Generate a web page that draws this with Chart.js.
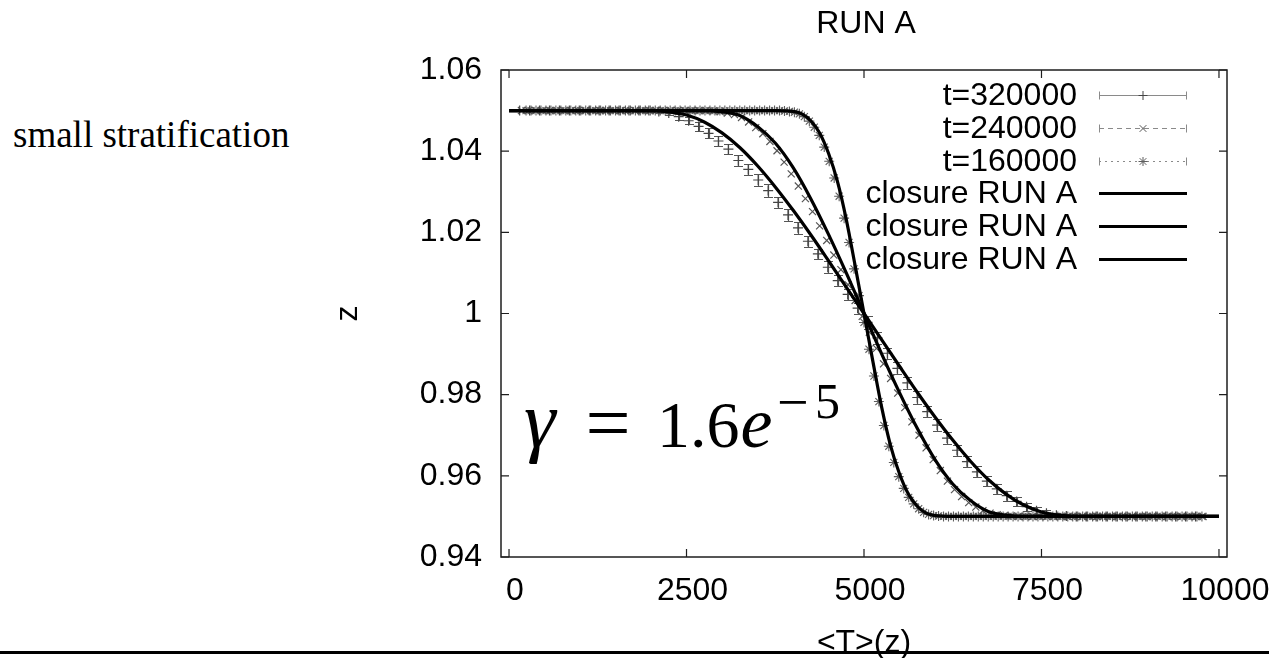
<!DOCTYPE html>
<html lang="en">
<head>
<meta charset="utf-8">
<style>
    body {
        margin: 0;
        background: #fff;
    }

    #wrap {
        position: relative;
        width: 1269px;
        height: 658px;
        overflow: hidden;
    }

    #note {
        position: absolute;
        left: 13px;
        top: 117px;
        font: 37px 'Liberation Serif', 'Times New Roman', serif;
        line-height: 36px;
        color: #000;
        white-space: nowrap;
    }

    #rule {
        position: absolute;
        left: 0;
        top: 651px;
        width: 1269px;
        height: 3px;
        background: #000;
    }

    #profileChart {
        position: absolute;
        left: 0;
        top: 0;
    }
</style>
</head>
<body>

<div id="wrap">
    <div id="note">small stratification</div>
    <canvas id="profileChart" width="1269" height="658"></canvas>
    <div id="rule"></div>
</div>

<script src="https://cdn.jsdelivr.net/npm/chart.js"></script>
<script>
    // axis ticks
    const xTicks = [0, 2500, 5000, 7500, 10000];
    const yTicks = [0.94, 0.96, 0.98, 1, 1.02, 1.04, 1.06];

    // t=320000 profile (with error bars)
    const t320X = [
        150, 290, 430, 570, 710, 850, 990, 1130, 1270, 1410,
        1550, 1690, 1830, 1970, 2110, 2250, 2390, 2530, 2670, 2810,
        2950, 3090, 3230, 3370, 3510, 3650, 3790, 3930, 4070, 4210,
        4350, 4490, 4630, 4770, 4910, 5050, 5190, 5330, 5470, 5610,
        5750, 5890, 6030, 6170, 6310, 6450, 6590, 6730, 6870, 7010,
        7150, 7290, 7430, 7570, 7710, 7850, 7990, 8130, 8270, 8410,
        8550, 8690, 8830, 8970, 9110, 9250, 9390, 9530, 9670
    ];
    const t320Y = [
        1.05, 1.05, 1.05, 1.05, 1.05, 1.05, 1.05, 1.05, 1.05, 1.05,
        1.05, 1.05, 1.05, 1.05, 1.0498, 1.0494, 1.0485, 1.0475, 1.0461, 1.0444,
        1.0425, 1.0405, 1.0377, 1.0355, 1.0329, 1.0303, 1.0274, 1.0243, 1.0211, 1.0178,
        1.0147, 1.0114, 1.0081, 1.0047, 1.0013, 0.9978, 0.9940, 0.9902, 0.9865, 0.9829,
        0.9793, 0.9758, 0.9725, 0.9693, 0.9663, 0.9635, 0.9610, 0.9587, 0.9568, 0.9551,
        0.9537, 0.9524, 0.9514, 0.9508, 0.9503, 0.9501, 0.95, 0.95, 0.95, 0.95,
        0.95, 0.95, 0.95, 0.95, 0.95, 0.95, 0.95, 0.95, 0.95
    ];
    const t320Err = [
        0, 0, 0, 0, 0, 0, 0, 0, 0, 0,
        0, 0, 0, 0, 0.0003, 0.0005, 0.0007, 0.0009, 0.0011, 0.0012,
        0.0013, 0.0012, 0.0014, 0.0013, 0.0014, 0.0015, 0.0013, 0.0014, 0.0015, 0.0014,
        0.0013, 0.0015, 0.0014, 0.0013, 0.0014, 0.0015, 0.0014, 0.0013, 0.0015, 0.0014,
        0.0015, 0.0013, 0.0014, 0.0015, 0.0014, 0.0013, 0.0014, 0.0013, 0.0012, 0.0012,
        0.0011, 0.0010, 0.0009, 0.0007, 0.0005, 0.0004, 0.0002, 0, 0, 0,
        0, 0, 0, 0, 0, 0, 0, 0, 0
    ];

    // t=240000 profile
    const t240X = [
        175, 275, 375, 475, 575, 675, 775, 875, 975, 1075,
        1175, 1275, 1375, 1475, 1575, 1675, 1775, 1875, 1975, 2075,
        2175, 2275, 2375, 2475, 2575, 2675, 2775, 2875, 2975, 3075,
        3175, 3275, 3375, 3475, 3575, 3675, 3775, 3875, 3975, 4075,
        4175, 4275, 4375, 4475, 4575, 4675, 4775, 4875, 4975, 5075,
        5175, 5275, 5375, 5475, 5575, 5675, 5775, 5875, 5975, 6075,
        6175, 6275, 6375, 6475, 6575, 6675, 6775, 6875, 6975, 7075,
        7175, 7275, 7375, 7475, 7575, 7675, 7775, 7875, 7975, 8075,
        8175, 8275, 8375, 8475, 8575, 8675, 8775, 8875, 8975, 9075,
        9175, 9275, 9375, 9475, 9575, 9675, 9775
    ];
    const t240Y = [
        1.05, 1.05, 1.05, 1.05, 1.05, 1.05, 1.05, 1.05, 1.05, 1.05,
        1.05, 1.05, 1.05, 1.05, 1.05, 1.05, 1.05, 1.05, 1.05, 1.05,
        1.05, 1.05, 1.05, 1.05, 1.05, 1.05, 1.05, 1.0499, 1.0497, 1.0494,
        1.0490, 1.0483, 1.0472, 1.0458, 1.0443, 1.0424, 1.0401, 1.0373, 1.0344, 1.0314,
        1.0283, 1.0251, 1.0216, 1.0180, 1.0144, 1.0108, 1.0071, 1.0032, 0.9993, 0.9954,
        0.9914, 0.9876, 0.9840, 0.9804, 0.9768, 0.9733, 0.9700, 0.9669, 0.9640, 0.9613,
        0.9587, 0.9566, 0.9549, 0.9534, 0.9523, 0.9514, 0.9508, 0.9504, 0.9502, 0.9501,
        0.95, 0.95, 0.95, 0.95, 0.95, 0.95, 0.95, 0.95, 0.95, 0.95,
        0.95, 0.95, 0.95, 0.95, 0.95, 0.95, 0.95, 0.95, 0.95, 0.95,
        0.95, 0.95, 0.95, 0.95, 0.95, 0.95, 0.95
    ];

    // t=160000 profile
    const t160X = [
        240, 310, 380, 450, 520, 590, 660, 730, 800, 870,
        940, 1010, 1080, 1150, 1220, 1290, 1360, 1430, 1500, 1570,
        1640, 1710, 1780, 1850, 1920, 1990, 2060, 2130, 2200, 2270,
        2340, 2410, 2480, 2550, 2620, 2690, 2760, 2830, 2900, 2970,
        3040, 3110, 3180, 3250, 3320, 3390, 3460, 3530, 3600, 3670,
        3740, 3810, 3880, 3950, 4020, 4090, 4160, 4230, 4300, 4370,
        4440, 4510, 4580, 4650, 4720, 4790, 4860, 4930, 5000, 5070,
        5140, 5210, 5280, 5350, 5420, 5490, 5560, 5630, 5700, 5770,
        5840, 5910, 5980, 6050, 6120, 6190, 6260, 6330, 6400, 6470,
        6540, 6610, 6680, 6750, 6820, 6890, 6960, 7030, 7100, 7170,
        7240, 7310, 7380, 7450, 7520, 7590, 7660, 7730, 7800, 7870,
        7940, 8010, 8080, 8150, 8220, 8290, 8360, 8430, 8500, 8570,
        8640, 8710, 8780, 8850, 8920, 8990, 9060, 9130, 9200, 9270,
        9340, 9410, 9480, 9550, 9620, 9690, 9760
    ];
    const t160Y = [
        1.05, 1.05, 1.05, 1.05, 1.05, 1.05, 1.05, 1.05, 1.05, 1.05,
        1.05, 1.05, 1.05, 1.05, 1.05, 1.05, 1.05, 1.05, 1.05, 1.05,
        1.05, 1.05, 1.05, 1.05, 1.05, 1.05, 1.05, 1.05, 1.05, 1.05,
        1.05, 1.05, 1.05, 1.05, 1.05, 1.05, 1.05, 1.05, 1.05, 1.05,
        1.05, 1.05, 1.05, 1.05, 1.05, 1.05, 1.05, 1.05, 1.05, 1.05,
        1.05, 1.05, 1.0499, 1.0498, 1.0496, 1.0492, 1.0485, 1.0474, 1.0459, 1.0439,
        1.0410, 1.0375, 1.0334, 1.0289, 1.0235, 1.0175, 1.0110, 1.0044, 0.9978, 0.9912,
        0.9846, 0.9783, 0.9724, 0.9673, 0.9633, 0.9598, 0.9569, 0.9547, 0.9531, 0.9519,
        0.9510, 0.9505, 0.9502, 0.9501, 0.95, 0.95, 0.95, 0.95, 0.95, 0.95,
        0.95, 0.95, 0.95, 0.95, 0.95, 0.95, 0.95, 0.95, 0.95, 0.95,
        0.95, 0.95, 0.95, 0.95, 0.95, 0.95, 0.95, 0.95, 0.95, 0.95,
        0.95, 0.95, 0.95, 0.95, 0.95, 0.95, 0.95, 0.95, 0.95, 0.95,
        0.95, 0.95, 0.95, 0.95, 0.95, 0.95, 0.95, 0.95, 0.95, 0.95,
        0.95, 0.95, 0.95, 0.95, 0.95, 0.95, 0.95
    ];

    // closure model curves
    const closureAX = [0, 1000, 2000, 2250, 2500, 2750, 3000, 3250, 3500, 3750, 4000, 4250, 4500, 4750,
        5000, 5250, 5500, 5750, 6000, 6250, 6500, 6750, 7000, 7250, 7500, 7750, 8000, 9000, 10000];
    const closureAY = [1.05, 1.05, 1.05, 1.0497, 1.0489, 1.0472, 1.0445, 1.0409, 1.0364, 1.0312, 1.0255, 1.0194, 1.0130, 1.0065,
        1.0, 0.9935, 0.9870, 0.9806, 0.9745, 0.9688, 0.9636, 0.9591, 0.9555, 0.9528, 0.9511, 0.9503, 0.95, 0.95, 0.95];

    const closureBX = [0, 1000, 2000, 2750, 3000, 3250, 3500, 3750, 4000, 4250, 4500, 4750,
        5000, 5250, 5500, 5750, 6000, 6250, 6500, 6750, 7000, 7250, 8000, 9000, 10000];
    const closureBY = [1.05, 1.05, 1.05, 1.05, 1.0497, 1.0488, 1.0461, 1.0420, 1.0360, 1.0283, 1.0195, 1.0100,
        1.0, 0.9900, 0.9805, 0.9717, 0.9640, 0.9580, 0.9539, 0.9512, 0.9503, 0.95, 0.95, 0.95, 0.95];

    const closureCX = [0, 1000, 2000, 3000, 3750, 4000, 4125, 4250, 4375, 4500, 4625, 4750, 4875,
        5000, 5125, 5250, 5375, 5500, 5625, 5750, 5875, 6000, 6250, 7000, 8000, 9000, 10000];
    const closureCY = [1.05, 1.05, 1.05, 1.05, 1.05, 1.0498, 1.0492, 1.0475, 1.0445, 1.0395, 1.0326, 1.0232, 1.0118,
        1.0, 0.9882, 0.9768, 0.9674, 0.9605, 0.9555, 0.9525, 0.9508, 0.9502, 0.95, 0.95, 0.95, 0.95, 0.95];

    const sansFont = "'Liberation Sans', Arial, Helvetica, sans-serif";
    const serifFont = "'Liberation Serif', 'Times New Roman', serif";

    Chart.defaults.font.family = sansFont;
    Chart.defaults.font.size = 32;
    Chart.defaults.color = '#000';

    function toPoints(xs, ys) {
        return xs.map((x, i) => ({ x: x, y: ys[i] }));
    }

    // small marker shapes used in the key
    function drawMarker(ctx, style, cx, cy, r) {
        ctx.beginPath();
        if (style === 'cross' || style === 'star') {
            ctx.moveTo(cx - r, cy); ctx.lineTo(cx + r, cy);
            ctx.moveTo(cx, cy - r); ctx.lineTo(cx, cy + r);
        }
        if (style === 'crossRot' || style === 'star') {
            const d = r * 0.75;
            ctx.moveTo(cx - d, cy - d); ctx.lineTo(cx + d, cy + d);
            ctx.moveTo(cx - d, cy + d); ctx.lineTo(cx + d, cy - d);
        }
        ctx.stroke();
    }

    // vertical error bars for the t=320000 run
    const errorBars = {
        id: 'errorBars',
        beforeDatasetsDraw(chart) {
            const { ctx, chartArea: a, scales: { x, y } } = chart;
            ctx.save();
            ctx.beginPath();
            ctx.rect(a.left, a.top, a.width, a.height);
            ctx.clip();
            ctx.strokeStyle = '#555';
            ctx.lineWidth = 1.2;
            t320X.forEach((tx, i) => {
                const e = t320Err[i];
                if (!e) return;
                const px = Math.round(x.getPixelForValue(tx)) + 0.5;
                const top = Math.round(y.getPixelForValue(t320Y[i] + e)) + 0.5;
                const bot = Math.round(y.getPixelForValue(t320Y[i] - e)) + 0.5;
                ctx.beginPath();
                ctx.moveTo(px, top); ctx.lineTo(px, bot);
                ctx.moveTo(px - 4.5, top); ctx.lineTo(px + 4.5, top);
                ctx.moveTo(px - 4.5, bot); ctx.lineTo(px + 4.5, bot);
                ctx.stroke();
            });
            ctx.restore();
        }
    };

    // border box with inward ticks on all four sides
    const frame = {
        id: 'frame',
        afterDatasetsDraw(chart) {
            const { ctx, chartArea: a, scales: { x, y } } = chart;
            ctx.save();
            ctx.strokeStyle = '#1e1e1e';
            ctx.lineWidth = 1.5;
            ctx.strokeRect(a.left, a.top, a.width, a.height);
            ctx.lineWidth = 1.2;
            ctx.beginPath();
            xTicks.forEach(v => {
                const p = x.getPixelForValue(v);
                ctx.moveTo(p, a.bottom); ctx.lineTo(p, a.bottom - 8);
                ctx.moveTo(p, a.top); ctx.lineTo(p, a.top + 8);
            });
            yTicks.forEach(v => {
                const p = y.getPixelForValue(v);
                ctx.moveTo(a.left, p); ctx.lineTo(a.left + 8, p);
                ctx.moveTo(a.right, p); ctx.lineTo(a.right - 8, p);
            });
            ctx.stroke();
            ctx.restore();
        }
    };

    // title, key and the gamma note
    const decorations = {
        id: 'decorations',
        afterDraw(chart) {
            const { ctx, chartArea: a } = chart;
            ctx.save();
            ctx.fillStyle = '#000';

            ctx.font = '32px ' + sansFont;
            ctx.textAlign = 'center';
            ctx.textBaseline = 'middle';
            ctx.fillText('RUN A', (a.left + a.right) / 2 + 2, 24);

            // key, top right inside the frame
            const textRight = a.right - 150;
            const lineStart = a.right - 128;
            const lineEnd = a.right - 40;
            chart.data.datasets.forEach((ds, i) => {
                const ly = Math.round(a.top + 25 + i * 32.8) + 0.5;
                ctx.textAlign = 'right';
                ctx.fillStyle = '#000';
                ctx.fillText(ds.label, textRight, ly + 1);
                if (ds.keyStyle === 'closure') {
                    ctx.strokeStyle = '#000';
                    ctx.lineWidth = 3;
                    ctx.setLineDash([]);
                    ctx.beginPath();
                    ctx.moveTo(lineStart, ly); ctx.lineTo(lineEnd, ly);
                    ctx.stroke();
                } else {
                    ctx.strokeStyle = '#8a8a8a';
                    ctx.lineWidth = 1;
                    ctx.setLineDash(ds.keyDash);
                    ctx.beginPath();
                    ctx.moveTo(lineStart, ly); ctx.lineTo(lineEnd, ly);
                    ctx.stroke();
                    ctx.setLineDash([]);
                    ctx.beginPath();
                    ctx.moveTo(lineStart + 0.5, ly - 4); ctx.lineTo(lineStart + 0.5, ly + 4);
                    ctx.moveTo(lineEnd - 0.5, ly - 4); ctx.lineTo(lineEnd - 0.5, ly + 4);
                    ctx.stroke();
                    ctx.strokeStyle = ds.borderColor;
                    drawMarker(ctx, ds.pointStyle, (lineStart + lineEnd) / 2, ly, 4.5);
                }
            });

            // gamma = 1.6e^-5
            ctx.fillStyle = '#000';
            ctx.textBaseline = 'alphabetic';
            ctx.textAlign = 'left';
            ctx.font = 'italic 80px ' + serifFont;
            ctx.fillText('\u03b3', 524, 447);
            ctx.textAlign = 'center';
            ctx.font = '80px ' + serifFont;
            ctx.fillText('=', 608, 450);
            ctx.textAlign = 'left';
            ctx.font = '66px ' + serifFont;
            ctx.fillText('1.6', 657, 447);
            const w = ctx.measureText('1.6').width;
            ctx.font = 'italic 72px ' + serifFont;
            ctx.fillText('e', 657 + w + 1, 447);
            ctx.font = '56px ' + serifFont;
            ctx.fillText('\u2212', 777, 421);
            ctx.font = '50px ' + serifFont;
            ctx.fillText('5', 815, 418);

            ctx.restore();
        }
    };

    const ctx = document.getElementById('profileChart').getContext('2d');

    new Chart(ctx, {
        type: 'scatter',
        data: {
            datasets: [
                {
                    label: 't=320000',
                    data: toPoints(t320X, t320Y),
                    pointStyle: 'cross',
                    pointRadius: 5,
                    borderWidth: 1.2,
                    borderColor: '#444',
                    backgroundColor: '#444',
                    keyDash: [],
                    order: 1
                },
                {
                    label: 't=240000',
                    data: toPoints(t240X, t240Y),
                    pointStyle: 'crossRot',
                    pointRadius: 5,
                    borderWidth: 1.2,
                    borderColor: '#555',
                    backgroundColor: '#555',
                    keyDash: [5, 4],
                    order: 1
                },
                {
                    label: 't=160000',
                    data: toPoints(t160X, t160Y),
                    pointStyle: 'star',
                    pointRadius: 5,
                    borderWidth: 1.1,
                    borderColor: '#5e5e5e',
                    backgroundColor: '#5e5e5e',
                    keyDash: [2, 4],
                    order: 1
                },
                {
                    label: 'closure RUN A',
                    data: toPoints(closureAX, closureAY),
                    showLine: true,
                    pointRadius: 0,
                    borderColor: '#000',
                    borderWidth: 3.2,
                    cubicInterpolationMode: 'monotone',
                    keyStyle: 'closure',
                    order: 0
                },
                {
                    label: 'closure RUN A',
                    data: toPoints(closureBX, closureBY),
                    showLine: true,
                    pointRadius: 0,
                    borderColor: '#000',
                    borderWidth: 3.2,
                    cubicInterpolationMode: 'monotone',
                    keyStyle: 'closure',
                    order: 0
                },
                {
                    label: 'closure RUN A',
                    data: toPoints(closureCX, closureCY),
                    showLine: true,
                    pointRadius: 0,
                    borderColor: '#000',
                    borderWidth: 3.2,
                    cubicInterpolationMode: 'monotone',
                    keyStyle: 'closure',
                    order: 0
                }
            ]
        },
        options: {
            responsive: false,
            animation: false,
            devicePixelRatio: 1,
            events: [],
            layout: {
                padding: { left: 320, right: 42, top: 70, bottom: 0 }
            },
            plugins: {
                legend: { display: false },
                title: { display: false },
                tooltip: { enabled: false }
            },
            scales: {
                x: {
                    type: 'linear',
                    min: -113,
                    max: 10113,
                    grid: { display: false },
                    border: { display: false },
                    afterBuildTicks: scale => {
                        scale.ticks = xTicks.map(v => ({ value: v }));
                    },
                    afterFit: scale => {
                        scale.height = 101;
                        scale.paddingLeft = 0;
                        scale.paddingRight = 0;
                    },
                    ticks: {
                        autoSkip: false,
                        maxRotation: 0,
                        minRotation: 0,
                        padding: 7,
                        labelOffset: 6,
                        callback: v => String(v)
                    },
                    title: {
                        display: true,
                        text: '<T>(z)',
                        padding: { top: 0, bottom: -4 }
                    }
                },
                y: {
                    type: 'linear',
                    min: 0.94,
                    max: 1.06,
                    grid: { display: false },
                    border: { display: false },
                    afterBuildTicks: scale => {
                        scale.ticks = yTicks.map(v => ({ value: v }));
                    },
                    afterFit: scale => {
                        scale.width = 181;
                        scale.paddingTop = 0;
                        scale.paddingBottom = 0;
                    },
                    ticks: {
                        autoSkip: false,
                        padding: 11,
                        callback: v => String(Math.round(v * 100) / 100)
                    },
                    title: {
                        display: true,
                        text: 'z',
                        padding: { top: 9, bottom: 0 }
                    }
                }
            }
        },
        plugins: [errorBars, frame, decorations]
    });
</script>

</body>
</html>
